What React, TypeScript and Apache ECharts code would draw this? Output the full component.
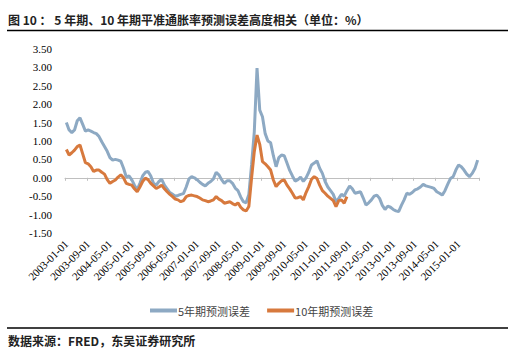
import React, { useEffect, useRef } from "react";
import * as echarts from "echarts";

const START_YEAR = 2003;
const MONTH_COUNT = 152;
const categories: string[] = [];
for (let i = 0; i < MONTH_COUNT; i++) {
  const y = START_YEAR + Math.floor(i / 12);
  const m = (i % 12) + 1;
  categories.push(`${y}-${m < 10 ? "0" + m : m}-01`);
}

const seriesNames = ["5年期预测误差", "10年期预测误差"];

const fiveYear: number[] = [
  1.50, 1.30, 1.23, 1.30, 1.55, 1.63, 1.45, 1.27, 1.30, 1.27,
  1.23, 1.20, 1.12, 0.98, 0.85, 0.72, 0.55, 0.48, 0.50, 0.48,
  0.45, 0.26, 0.02, 0.05, -0.05, -0.20, -0.33, -0.15, 0.05, 0.15,
  0.17, 0.05, -0.15, -0.20, -0.10, -0.04, -0.20, -0.30, -0.40, -0.45,
  -0.50, -0.48, -0.45, -0.43, -0.25, -0.03, 0.03, 0.00, -0.05, -0.12,
  -0.18, -0.22, -0.15, -0.10, -0.03, 0.15, 0.08, -0.05, -0.15, -0.08,
  -0.08, -0.15, -0.28, -0.35, -0.52, -0.65, -0.68, -0.45, 0.35, 1.25,
  2.98, 1.84, 1.66, 1.20, 1.00, 0.95, 0.60, 0.30, 0.55, 0.62,
  0.60, 0.40, 0.20, 0.05, -0.09, -0.05, 0.02, -0.10, 0.00, 0.15,
  0.35, 0.40, 0.46, 0.26, 0.12, -0.10, -0.25, -0.35, -0.45, -0.65,
  -0.56, -0.45, -0.50, -0.35, -0.22, -0.30, -0.42, -0.40, -0.38, -0.55,
  -0.74, -0.68, -0.60, -0.50, -0.47, -0.56, -0.75, -0.86, -0.77, -0.80,
  -0.86, -0.90, -0.92, -0.75, -0.60, -0.42, -0.45, -0.40, -0.33, -0.30,
  -0.25, -0.18, -0.22, -0.24, -0.26, -0.29, -0.38, -0.42, -0.47, -0.35,
  -0.18, -0.02, 0.03, 0.21, 0.35, 0.30, 0.21, 0.10, 0.03,
  0.12, 0.25, 0.48,
];

const tenYear: (number | null)[] = [
  0.77, 0.62, 0.68, 0.75, 0.85, 0.89, 0.65, 0.41, 0.38, 0.30,
  0.17, 0.21, 0.21, 0.15, 0.10, -0.05, -0.15, -0.10, -0.06, 0.02,
  0.08, 0.00, -0.15, -0.18, -0.20, -0.30, -0.38, -0.25, -0.10, -0.01,
  -0.05, -0.15, -0.22, -0.29, -0.25, -0.20, -0.30, -0.38, -0.45, -0.51,
  -0.58, -0.60, -0.65, -0.62, -0.51, -0.48, -0.47, -0.49, -0.51, -0.55,
  -0.60, -0.62, -0.65, -0.63, -0.60, -0.51, -0.58, -0.62, -0.69, -0.67,
  -0.65, -0.70, -0.74, -0.68, -0.80, -0.87, -0.90, -0.78, -0.01, 0.71,
  1.16, 0.91, 0.44, 0.38, 0.30, 0.21, -0.06, -0.24, -0.15, -0.08,
  -0.06, -0.20, -0.30, -0.42, -0.55, -0.54, -0.51, -0.60, -0.40, -0.24,
  -0.04, 0.03, -0.02, -0.20, -0.35, -0.42, -0.50, -0.56, -0.62, -0.78,
  -0.62, -0.60, -0.69, -0.51,
];

const titleText = "图 10 ： 5 年期、10 年期平准通胀率预测误差高度相关（单位：%）";
const sourceText = "数据来源：FRED，东吴证券研究所";

const BLUE = "#8DA9C3";
const ORANGE = "#D7793D";
const CJK = "'Noto Sans CJK SC', sans-serif";
const SERIF = "'Liberation Serif', 'DejaVu Serif', serif";

export default function App() {
  const ref = useRef<HTMLDivElement>(null);
  useEffect(() => {
    if (!ref.current) return;
    const chart = echarts.init(ref.current, undefined, { renderer: "svg" });
    chart.setOption({
      animation: false,
      backgroundColor: "#ffffff",
      grid: { left: 65, right: 36, top: 49, bottom: 122, containLabel: false },
      legend: {
        left: 145,
        top: 300,
        itemWidth: 27,
        itemHeight: 4,
        itemGap: 17,
        icon: "rect",
        textStyle: { fontFamily: CJK, fontSize: 11, color: "#444", padding: [0, 0, 0, -4] },
        data: seriesNames,
      },
      xAxis: [
        {
          type: "category",
          data: categories,
          position: "bottom",
          boundaryGap: true,
          axisLine: { show: true, onZero: true, lineStyle: { color: "#BFBFBF", width: 1 } },
          axisTick: { show: true, interval: 7, length: 3, inside: false, lineStyle: { color: "#BFBFBF" } },
          axisLabel: { show: false },
          splitLine: { show: false },
        },
        {
          type: "category",
          data: categories,
          position: "bottom",
          boundaryGap: true,
          axisLine: { show: false, onZero: false },
          axisTick: { show: false },
          axisLabel: {
            show: true,
            interval: 7,
            rotate: 45,
            margin: 9,
            fontFamily: SERIF,
            fontSize: 11,
            color: "#000",
          },
          splitLine: { show: false },
        },
      ],
      yAxis: {
        type: "value",
        min: -1.5,
        max: 3.5,
        interval: 0.5,
        axisLine: { show: false },
        axisTick: { show: false },
        splitLine: { show: false },
        axisLabel: {
          margin: 13,
          fontFamily: SERIF,
          fontSize: 11,
          color: "#000",
          formatter: (v: number) => v.toFixed(2),
        },
      },
      series: [
        {
          name: seriesNames[0],
          type: "line",
          xAxisIndex: 0,
          data: fiveYear,
          showSymbol: false,
          symbol: "none",
          lineStyle: { color: BLUE, width: 3 },
          itemStyle: { color: BLUE },
          z: 2,
        },
        {
          name: seriesNames[1],
          type: "line",
          xAxisIndex: 0,
          data: tenYear,
          showSymbol: false,
          symbol: "none",
          lineStyle: { color: ORANGE, width: 3 },
          itemStyle: { color: ORANGE },
          z: 3,
        },
      ],
      graphic: [
        {
          type: "text",
          left: 8,
          top: 13,
          style: { text: titleText, font: `bold 12px ${CJK}`, fill: "#222" },
        },
        {
          type: "line",
          shape: { x1: 7, y1: 30.5, x2: 508, y2: 30.5 },
          style: { stroke: "#000", lineWidth: 1.3 },
        },
        {
          type: "line",
          shape: { x1: 7, y1: 328, x2: 508, y2: 328 },
          style: { stroke: "#000", lineWidth: 1.3 },
        },
        {
          type: "text",
          left: 8,
          top: 334,
          style: { text: sourceText, font: `bold 12px ${CJK}`, fill: "#222" },
        },
      ],
    });
    return () => chart.dispose();
  }, []);
  return (
    <div
      ref={ref}
      style={{ position: "fixed", left: 0, top: 0, width: 515, height: 355, background: "#fff" }}
    />
  );
}
